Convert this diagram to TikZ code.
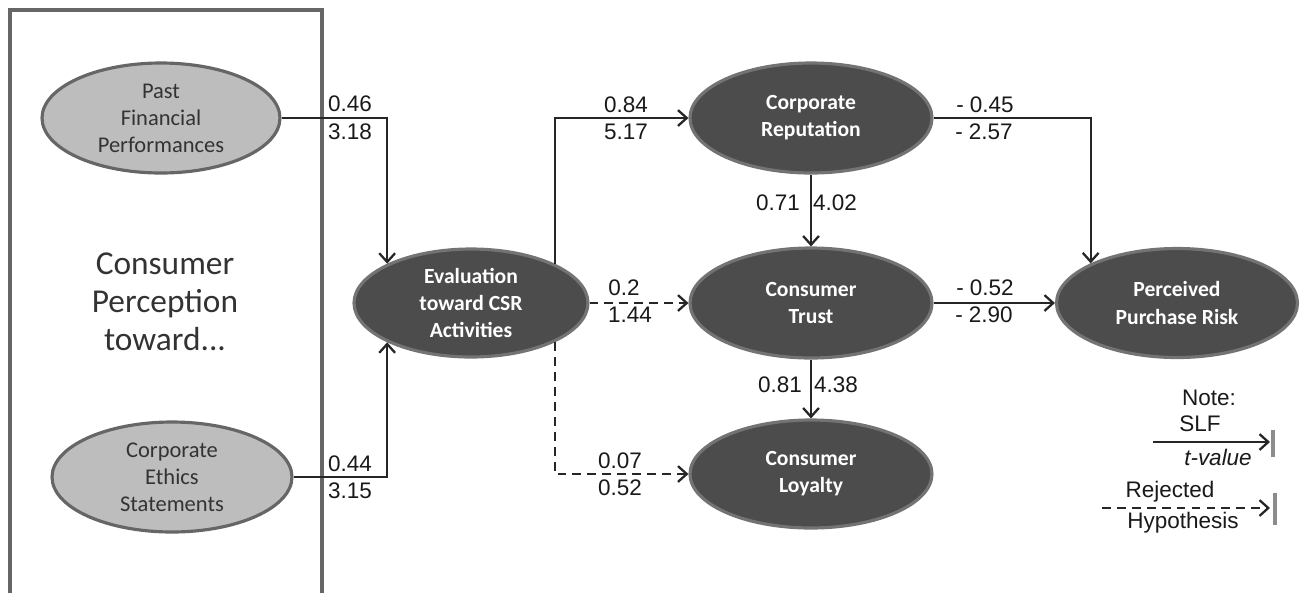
\documentclass[tikz,border=0pt]{standalone}
\usepackage{fontspec}
\setmainfont{Carlito}
\newfontfamily\numfont{Liberation Sans}
\usetikzlibrary{shapes.geometric,arrows.meta}

\begin{document}
\begin{tikzpicture}[x=0.02cm,y=-0.02cm,
    lightnode/.style={ellipse,draw=black!60,line width=1.8pt,fill=black!26,inner sep=0pt,align=center,text=black!80,font=\fontsize{12.8}{15.4}\selectfont},
    darknode/.style={ellipse,draw=black!55,line width=1.8pt,fill=black!70,inner sep=0pt,align=center,text=white,font=\fontsize{12.3}{15.4}\selectfont\bfseries},
    arr/.style={-{Straight Barb[length=5pt,width=9pt]},line width=1.3pt,black!85},
    rej/.style={arr,dash pattern=on 5pt off 3.5pt},
    num/.style={font=\numfont\fontsize{12.8}{15}\selectfont,inner sep=0pt,text=black!90}]

\useasboundingbox (0,0) rectangle (1302,593);

% left box
\draw[black!60,line width=2pt] (10,593) -- (10,10) -- (322,10) -- (322,593);
\node[text=black!80,align=center,font=\fontsize{19}{21.6}\selectfont] (percep) at (165,302) {Consumer\\Perception\\toward...};

% constructs
\node[lightnode,minimum width=4.76cm,minimum height=2.2cm] (past) at (161,118) {Past\\Financial\\Performances};
\node[lightnode,minimum width=4.8cm,minimum height=2.2cm] (ethics) at (172,477) {Corporate\\Ethics\\Statements};
\node[darknode,minimum width=4.68cm,minimum height=2.16cm] (eval) at (471,303) {Evaluation\\toward CSR\\Activities};
\node[darknode,minimum width=4.84cm,minimum height=2.2cm] (rep) at (811,118) {Corporate\\Reputation};
\node[darknode,minimum width=4.84cm,minimum height=2.2cm] (trust) at (811,303) {Consumer\\Trust};
\node[darknode,minimum width=4.84cm,minimum height=2.16cm] (loyal) at (811,474) {Consumer\\Loyalty};
\node[darknode,minimum width=4.82cm,minimum height=2.18cm] (risk) at (1177,303) {Perceived\\Purchase Risk};

% paths
\draw[arr] (past.east) -| (eval.north west);
\draw[arr] (ethics.east) -| (eval.south west);
\draw[arr] (eval.north east) |- (rep.west);
\draw[rej] (eval) -- (trust);
\draw[rej] (eval.south east) |- (loyal.west);
\draw[arr] (rep) -- (trust);
\draw[arr] (trust) -- (loyal);
\draw[arr] (rep.east) -| (risk.north west);
\draw[arr] (trust) -- (risk);

% coefficients
\node[num] (c1a) at (350,104) {0.46};
\node[num] (c1b) at (350,132) {3.18};
\node[num] (c2a) at (350,464) {0.44};
\node[num] (c2b) at (350,491) {3.15};
\node[num] (c3a) at (626,105) {0.84};
\node[num] (c3b) at (626,132) {5.17};
\node[num] (c4a) at (624,288) {0.2};
\node[num] (c4b) at (630,315) {1.44};
\node[num] (c5a) at (620,461) {0.07};
\node[num] (c5b) at (620,488) {0.52};
\node[num] (c6a) at (778,203) {0.71};
\node[num] (c6b) at (835,203) {4.02};
\node[num] (c7a) at (780,385) {0.81};
\node[num] (c7b) at (836,385) {4.38};
\node[num] (c8a) at (985,105) {- 0.45};
\node[num] (c8b) at (984,132) {- 2.57};
\node[num] (c9a) at (985,288) {- 0.52};
\node[num] (c9b) at (984,315) {- 2.90};

% note
\node[num] (note) at (1209,398) {Note:};
\node[num] (slf) at (1200,424) {SLF};
\node[num,font=\numfont\itshape\fontsize{12.8}{15}\selectfont] (tval) at (1218,457) {t-value};
\coordinate (slfa) at (1153,442);
\coordinate (slfb) at (1270,442);
\draw[arr] (slfa) -- (slfb);
\draw[black!45,line width=1.8pt] (1273,430) -- (1273,457);
\node[num] (rejt) at (1170,492) {Rejected};
\node[num] (hypo) at (1183,523) {Hypothesis};
\coordinate (reja) at (1102,508);
\coordinate (rejb) at (1270,508);
\draw[rej] (reja) -- (rejb);
\draw[black!45,line width=1.8pt] (1275,493) -- (1275,525);
\end{tikzpicture}
\end{document}
